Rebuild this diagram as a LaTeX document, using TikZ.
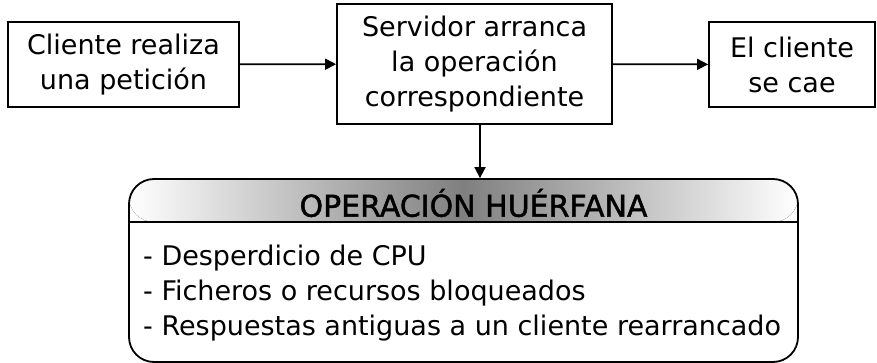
\documentclass[tikz,border=0pt]{standalone}
\usepackage{fontspec}
\setmainfont{DejaVu Sans}
\newfontfamily\headfont[FakeBold=1.5]{DejaVu Sans}
\usetikzlibrary{arrows.meta,calc}
\begin{document}
\begin{tikzpicture}[x=1pt,y=-1pt,
  box/.style={draw,line width=1.8pt,inner sep=0pt,align=center,font=\fontsize{27}{35}\selectfont},
  arr/.style={line width=1.8pt,-{Triangle[length=11pt,width=11pt]}},
  txt/.style={inner sep=0pt}]
\useasboundingbox (0,0) rectangle (877,363);
\node[box,minimum width=231pt,minimum height=85pt] (c1) at (123.5,64.5) {Cliente realiza\\una petición};
\node[box,minimum width=275pt,minimum height=120pt] (c2) at (474.5,64) {Servidor arranca\\la operación\\correspondiente};
\node[box,minimum width=166pt,minimum height=85pt] (c3) at (792,64.5) {El cliente\\se cae};
\node[draw,line width=1.8pt,rounded corners=25pt,minimum width=669pt,minimum height=183pt,inner sep=0pt,
  path picture={\fill[left color=white,right color=white,middle color=black!50]
    (path picture bounding box.north west) rectangle ($(path picture bounding box.north east)+(0,43)$);
    \draw[line width=1.8pt] ($(path picture bounding box.north west)+(0,43)$) -- ($(path picture bounding box.north east)+(0,43)$);}]
  (orf) at (463.5,270.5) {};
\node[txt,font=\headfont\fontsize{30}{36}\selectfont,anchor=center] (hd) at (473.5,203) {OPERACIÓN HUÉRFANA};
\node[txt,align=left,anchor=west,font=\fontsize{27}{35}\selectfont] (lst) at (143,293) {- Desperdicio de CPU\\- Ficheros o recursos bloqueados\\- Respuestas antiguas a un cliente rearrancado};
\draw[arr] (c1) -- (c2);
\draw[arr] (c2) -- (c3);
\draw[arr] (c2.south -| 480,0) -- (orf.north -| 480,0);
\end{tikzpicture}
\end{document}
